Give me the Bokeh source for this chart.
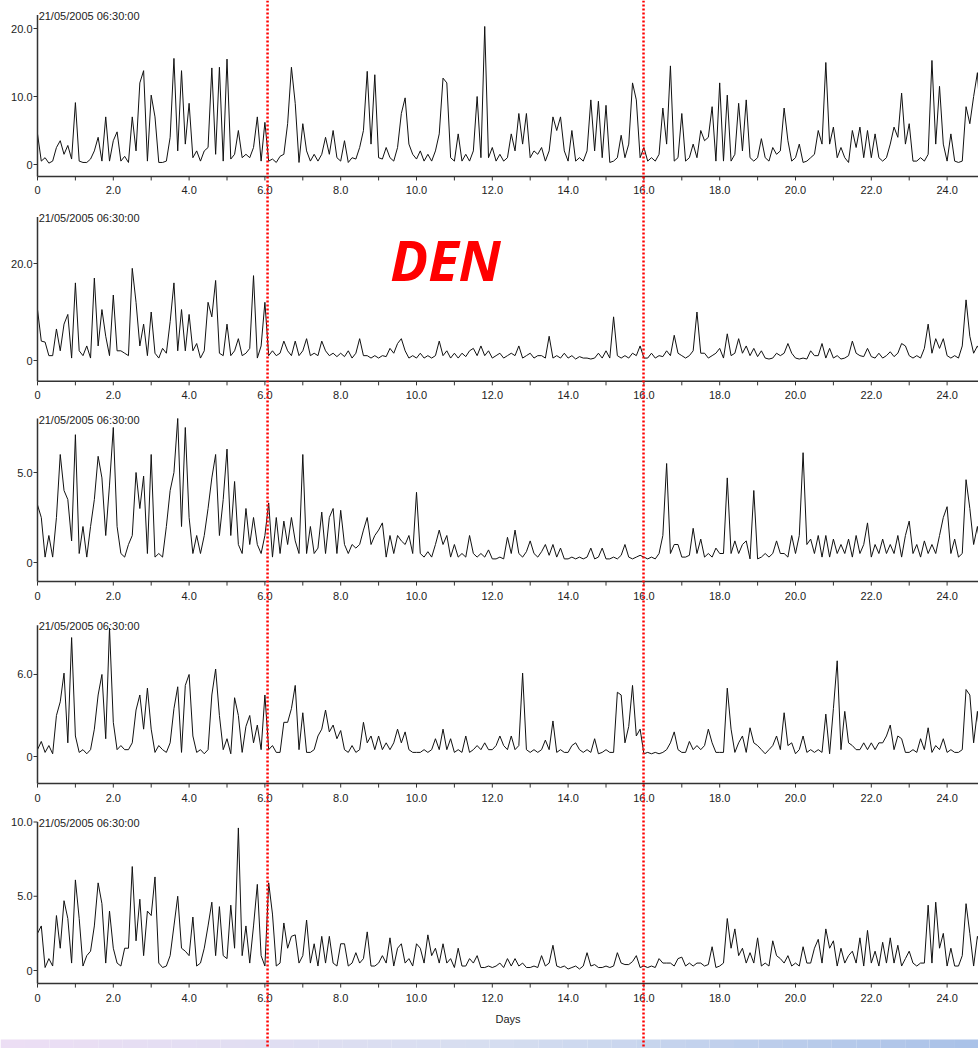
import numpy as np
from bokeh.plotting import figure
from bokeh.models import Range1d, Span, Label
from bokeh.core.properties import value
from bokeh.embed import file_html
from bokeh.resources import INLINE

# ---------------------------------------------------------------- data
stamp = "21/05/2005 06:30:00"
x_tick_days = list(range(0, 25))
x_label_days = list(range(0, 25, 2))
x_labels = ["0"] + [f"{d:.1f}" for d in x_label_days[1:]]
marker_days = [6.07, 15.99]
STEP = 0.1  # sampling interval in days

series_1 = [
    4.5, 0.5, 1.0, 0.2, 0.5, 2.5, 3.5, 1.5, 2.8, 0.8,
    9.1, 0.5, 0.3, 0.3, 0.8, 2.0, 4.0, 0.5, 7.0, 0.5,
    3.5, 4.8, 0.5, 1.2, 0.3, 7.0, 2.0, 12.0, 13.8, 0.5,
    10.2, 7.0, 0.3, 0.3, 0.5, 4.0, 15.6, 2.0, 13.8, 3.0,
    9.0, 1.0, 2.0, 0.5, 2.0, 2.5, 14.2, 1.5, 14.3, 0.5,
    15.5, 0.8, 1.5, 5.0, 1.0, 1.5, 1.0, 2.5, 7.0, 0.5,
    6.2, 0.5, 0.8, 0.3, 1.2, 1.5, 6.0, 14.3, 9.0, 0.3,
    6.0, 2.0, 0.5, 1.5, 0.5, 1.5, 4.0, 1.5, 5.0, 1.0,
    0.5, 3.5, 0.3, 1.0, 0.8, 2.5, 5.0, 13.7, 3.0, 13.2,
    1.0, 0.8, 2.5, 1.0, 0.5, 2.5, 7.5, 9.8, 3.0, 1.5,
    0.8, 2.0, 0.5, 1.5, 0.5, 2.0, 4.5, 12.7, 12.0, 1.0,
    0.5, 4.5, 0.5, 1.5, 0.5, 2.0, 10.0, 1.0, 20.3, 1.0,
    2.5, 0.5, 1.5, 0.5, 1.0, 4.5, 2.0, 7.5, 3.0, 7.5,
    1.0, 2.0, 1.5, 2.5, 0.5, 2.0, 7.0, 5.0, 7.0, 2.0,
    0.5, 5.0, 0.5, 1.0, 0.5, 2.0, 9.5, 2.0, 9.3, 1.0,
    8.7, 0.3, 0.5, 1.0, 4.3, 1.0, 3.0, 12.0, 9.5, 1.0,
    2.5, 0.5, 1.0, 0.5, 1.5, 8.3, 3.0, 14.5, 0.5, 1.0,
    7.5, 0.5, 1.0, 3.0, 1.0, 5.0, 3.5, 4.0, 8.5, 0.5,
    12.0, 0.5, 10.2, 0.5, 1.5, 9.0, 2.0, 9.5, 1.0, 0.5,
    1.0, 3.8, 1.0, 0.5, 2.5, 1.5, 2.0, 8.3, 3.5, 0.5,
    1.0, 3.0, 0.3, 0.5, 1.0, 1.5, 5.0, 3.0, 15.0, 3.0,
    5.5, 1.0, 2.5, 1.0, 0.3, 5.0, 2.5, 5.5, 1.0, 5.0,
    1.0, 4.5, 1.0, 0.5, 1.0, 3.0, 5.5, 4.0, 10.5, 3.0,
    6.0, 0.5, 0.5, 1.0, 0.5, 1.5, 15.3, 3.0, 11.5, 3.0,
    0.5, 4.5, 0.5, 0.3, 0.5, 8.5, 6.0, 10.0, 13.5, 5.0,
    12.0,
]

series_2 = [
    10.5, 4.0, 3.8, 1.0, 1.0, 6.5, 2.0, 7.5, 9.5, 0.5,
    16.0, 2.0, 1.0, 3.0, 0.5, 17.0, 3.0, 10.5, 5.0, 1.0,
    13.5, 2.0, 2.0, 1.5, 1.0, 19.0, 12.0, 3.0, 7.5, 1.0,
    10.0, 1.5, 0.5, 2.5, 1.5, 8.0, 16.0, 2.0, 10.5, 2.0,
    9.5, 2.0, 3.5, 0.5, 2.0, 12.0, 9.0, 16.5, 1.5, 1.0,
    7.5, 1.0, 2.0, 4.5, 1.0, 1.5, 2.5, 17.5, 0.5, 3.0,
    12.0, 1.0, 2.0, 1.0, 1.5, 4.0, 2.0, 1.0, 4.0, 1.0,
    2.0, 4.5, 1.0, 1.5, 1.0, 4.0, 2.0, 1.0, 1.5, 0.8,
    1.5, 0.8, 2.0, 0.5, 1.5, 4.5, 1.0, 1.0, 0.5, 1.0,
    0.5, 1.0, 0.8, 2.5, 1.5, 3.5, 4.5, 2.0, 0.5, 1.0,
    0.5, 1.5, 0.5, 1.0, 0.5, 1.0, 4.0, 1.0, 2.0, 0.5,
    1.5, 0.5, 1.5, 0.8, 2.0, 2.5, 1.0, 3.0, 1.0, 2.0,
    0.5, 1.0, 1.5, 0.5, 1.0, 1.5, 1.0, 3.0, 0.5, 1.0,
    1.5, 0.5, 1.0, 1.0, 0.5, 5.0, 0.5, 1.0, 0.5, 1.5,
    0.5, 1.0, 0.3, 0.8, 0.5, 0.5, 0.3, 0.5, 1.5, 0.5,
    2.0, 0.5, 9.0, 1.0, 0.5, 1.0, 0.5, 1.5, 1.0, 3.0,
    0.5, 0.5, 1.5, 0.5, 1.0, 0.8, 2.0, 1.0, 5.2, 1.5,
    1.0, 0.5, 1.0, 2.0, 10.0, 1.5, 1.5, 0.5, 1.0, 1.5,
    2.5, 0.5, 5.5, 1.0, 1.5, 4.5, 1.5, 3.0, 1.0, 2.5,
    0.8, 2.0, 0.5, 0.3, 0.5, 1.5, 1.0, 1.5, 3.5, 1.5,
    0.5, 0.3, 0.5, 0.3, 2.0, 1.0, 1.0, 3.5, 0.5, 2.5,
    0.5, 1.0, 0.3, 0.5, 1.0, 4.0, 1.5, 1.0, 0.8, 2.5,
    0.8, 0.5, 1.5, 0.5, 1.0, 1.8, 0.8, 1.5, 3.5, 3.0,
    1.0, 0.5, 1.0, 0.5, 2.5, 7.5, 1.5, 4.5, 2.5, 4.5,
    1.0, 0.5, 1.0, 0.5, 3.0, 12.5, 5.0, 1.5, 3.0, 1.5,
    2.0,
]

series_3 = [
    3.2, 2.5, 0.3, 1.5, 0.3, 2.5, 6.0, 4.0, 3.5, 1.2,
    7.1, 0.5, 2.0, 0.3, 2.0, 3.5, 5.9, 4.7, 1.5, 4.3,
    7.5, 2.0, 0.5, 0.3, 1.0, 1.5, 5.0, 3.0, 4.8, 0.5,
    6.0, 0.3, 0.5, 0.3, 2.0, 4.0, 5.0, 8.0, 2.0, 7.5,
    2.5, 0.5, 1.5, 0.5, 1.5, 3.0, 4.7, 6.0, 1.5, 3.5,
    6.3, 1.5, 4.5, 1.0, 0.5, 3.0, 1.0, 2.5, 1.0, 0.5,
    1.5, 3.3, 0.3, 2.5, 0.5, 2.3, 1.0, 2.5, 1.2, 0.5,
    6.0, 0.5, 2.0, 0.5, 0.8, 2.8, 0.5, 2.5, 3.0, 0.5,
    2.9, 1.0, 0.5, 1.0, 0.8, 1.0, 1.8, 2.5, 1.0, 1.5,
    1.8, 2.2, 0.3, 1.5, 0.5, 1.5, 1.2, 1.0, 1.5, 0.5,
    3.9, 0.5, 0.3, 0.6, 0.3, 1.0, 1.8, 1.0, 1.5, 0.3,
    1.0, 0.3, 0.5, 0.3, 1.5, 0.5, 0.3, 0.5, 0.3, 0.7,
    0.2, 0.2, 0.3, 0.2, 1.4, 0.5, 1.8, 0.5, 0.3, 0.6,
    1.2, 0.5, 0.3, 0.6, 1.0, 0.4, 1.0, 0.3, 0.8, 0.2,
    0.2, 0.3, 0.2, 0.3, 0.2, 0.3, 0.8, 0.2, 0.3, 0.8,
    0.2, 0.2, 0.3, 0.2, 0.4, 1.0, 0.3, 0.2, 0.3, 0.4,
    0.3, 0.2, 0.3, 0.2, 0.5, 1.5, 5.5, 0.5, 1.0, 1.0,
    0.3, 0.3, 0.4, 1.9, 0.5, 1.3, 0.3, 0.5, 0.3, 0.8,
    0.5, 0.5, 4.7, 0.5, 1.2, 0.5, 1.0, 1.2, 0.2, 4.0,
    0.2, 0.3, 0.5, 0.3, 0.5, 1.2, 0.5, 0.5, 0.3, 1.5,
    0.5, 1.5, 6.1, 1.0, 1.3, 0.5, 1.5, 0.3, 1.5, 0.3,
    1.3, 0.5, 1.0, 0.5, 1.3, 0.3, 1.5, 0.5, 1.0, 2.2,
    0.3, 1.0, 0.5, 1.3, 0.5, 1.0, 0.5, 1.5, 0.3, 1.5,
    2.3, 0.5, 1.0, 0.3, 1.2, 0.5, 1.0, 0.5, 1.5, 2.5,
    3.1, 0.5, 1.3, 0.3, 0.5, 4.6, 3.0, 1.0, 2.0, 0.5,
    1.0,
]

series_4 = [
    0.5, 1.1, 0.3, 0.8, 0.2, 3.0, 4.0, 6.1, 1.0, 8.7,
    1.5, 0.3, 0.5, 0.2, 0.5, 2.0, 4.5, 6.0, 1.3, 9.4,
    2.5, 0.5, 0.8, 0.5, 0.5, 1.0, 3.4, 4.5, 2.0, 5.0,
    2.0, 0.3, 0.8, 0.5, 0.3, 1.0, 3.5, 5.1, 0.3, 5.2,
    6.0, 1.5, 0.3, 0.5, 0.2, 0.5, 4.5, 6.4, 3.0, 0.5,
    1.3, 0.2, 4.3, 3.0, 0.3, 2.2, 3.0, 1.0, 2.3, 0.5,
    4.5, 0.5, 0.8, 0.3, 0.3, 2.5, 2.5, 3.5, 5.2, 0.5,
    3.2, 0.3, 0.3, 0.5, 1.5, 2.0, 3.4, 1.8, 2.3, 1.3,
    1.9, 0.5, 0.3, 0.8, 0.3, 0.5, 2.5, 1.0, 1.5, 0.5,
    1.5, 0.5, 1.0, 0.5, 1.0, 2.0, 1.0, 1.8, 0.5, 0.3,
    0.3, 0.3, 0.5, 0.3, 0.5, 1.3, 0.5, 2.0, 0.5, 1.3,
    0.3, 0.5, 0.3, 1.5, 0.3, 0.5, 0.8, 0.5, 1.0, 0.5,
    0.5, 0.8, 1.5, 0.8, 0.5, 1.5, 0.5, 0.8, 6.1, 0.5,
    0.3, 0.5, 0.3, 0.5, 1.2, 0.5, 2.6, 0.3, 0.5, 0.3,
    0.3, 0.8, 1.0, 0.5, 0.3, 0.5, 0.3, 1.3, 0.2, 0.3,
    0.5, 0.3, 0.3, 4.7, 4.5, 1.0, 2.2, 5.2, 1.5, 2.0,
    0.2, 0.3, 0.2, 0.3, 0.2, 0.3, 0.5, 1.0, 1.8, 0.5,
    0.3, 0.3, 1.1, 0.5, 0.8, 0.5, 0.8, 2.0, 1.0, 0.3,
    0.3, 0.3, 5.0, 2.0, 0.3, 1.0, 1.5, 0.3, 2.1, 1.0,
    0.8, 0.5, 0.2, 0.5, 0.8, 1.5, 0.5, 3.2, 0.8, 1.0,
    0.2, 0.5, 1.5, 0.3, 0.5, 0.3, 0.5, 0.3, 3.1, 0.2,
    3.5, 7.0, 0.5, 3.3, 1.0, 0.8, 0.5, 0.5, 1.0, 0.5,
    1.0, 0.5, 1.0, 1.0, 1.5, 2.3, 0.5, 1.5, 1.3, 0.3,
    0.3, 0.5, 0.3, 1.3, 0.5, 2.1, 0.3, 0.8, 0.5, 1.3,
    0.3, 0.5, 0.3, 0.3, 0.5, 4.9, 4.5, 1.0, 3.3, 0.5,
    1.5,
]

series_5 = [
    2.5, 3.0, 0.2, 0.8, 0.3, 3.7, 1.5, 4.7, 3.5, 0.5,
    6.1, 3.5, 0.3, 1.0, 1.3, 3.0, 5.9, 4.5, 0.5, 4.0,
    1.5, 0.5, 0.3, 1.5, 1.5, 7.0, 2.0, 4.8, 1.0, 4.0,
    3.7, 6.3, 0.5, 0.2, 0.3, 1.0, 3.0, 5.0, 1.5, 1.3,
    1.0, 3.6, 0.3, 0.5, 1.5, 3.0, 4.6, 1.0, 4.3, 1.0,
    0.8, 4.4, 1.5, 9.6, 1.0, 3.0, 0.5, 3.0, 5.8, 1.0,
    0.3, 5.9, 3.8, 0.3, 0.5, 3.2, 1.5, 2.3, 2.4, 0.5,
    1.0, 3.4, 0.5, 1.8, 0.3, 2.3, 0.5, 2.3, 0.5, 0.3,
    1.8, 1.8, 0.3, 0.5, 1.2, 0.5, 0.8, 2.6, 0.3, 0.3,
    0.5, 1.0, 0.5, 2.2, 0.3, 1.5, 1.8, 0.5, 0.8, 0.3,
    1.8, 1.5, 0.5, 2.4, 1.0, 1.5, 0.5, 1.8, 0.5, 0.8,
    0.2, 1.5, 0.3, 0.3, 0.8, 0.5, 1.0, 0.2, 0.2, 0.3,
    0.2, 0.3, 0.5, 0.2, 0.8, 0.3, 0.8, 0.3, 0.5, 0.2,
    0.2, 0.3, 0.2, 1.0, 0.3, 0.5, 1.7, 0.3, 0.2, 0.3,
    0.1, 0.2, 0.3, 0.1, 0.3, 1.2, 0.3, 0.4, 0.2, 0.2,
    0.3, 0.2, 0.3, 1.2, 0.5, 0.4, 0.4, 0.6, 1.0, 0.2,
    0.3, 0.2, 0.3, 0.2, 0.8, 0.5, 0.5, 0.5, 0.3, 0.8,
    0.9, 0.3, 0.5, 0.3, 0.5, 0.5, 0.3, 0.4, 1.6, 0.2,
    0.3, 0.5, 3.5, 1.5, 2.8, 1.0, 1.5, 0.5, 1.2, 0.5,
    2.2, 0.3, 0.5, 0.3, 2.0, 1.0, 0.8, 0.5, 1.0, 0.3,
    0.5, 0.3, 1.6, 0.5, 0.5, 1.5, 2.1, 0.5, 2.8, 1.5,
    2.0, 0.3, 1.5, 0.5, 1.0, 1.3, 0.5, 2.2, 0.3, 2.7,
    0.5, 1.3, 0.3, 1.9, 0.5, 2.2, 0.5, 1.7, 0.3, 0.8,
    1.3, 0.5, 0.3, 0.5, 0.5, 4.4, 0.5, 4.6, 1.5, 2.5,
    0.3, 1.5, 0.3, 0.3, 1.0, 4.5, 2.5, 0.3, 2.3, 1.5,
    2.0,
]

# y ticks and their labels for each strip
y_ticks = [[0, 10, 20], [0, 20], [0, 5], [0, 6], [0, 5, 10]]
y_tick_labels = [["0", "10.0", "20.0"], ["0", "20.0"], ["0", "5.0"],
                 ["0", "6.0"], ["0", "5.0", "10.0"]]
all_series = [series_1, series_2, series_3, series_4, series_5]

# ---------------------------------------------------------------- layout
W, H = 978, 1048
X0_PX = 37.0          # canvas column of day 0
PX_PER_DAY = 37.9
# per strip: canvas row of value 0, pixels per unit, axis bottom / top (in values)
strips = [
    dict(zero=164, unit=6.8,  ymin=-1.76, ymax=22.0),
    dict(zero=360, unit=4.85, ymin=-4.3,  ymax=29.6),
    dict(zero=562, unit=18.0, ymin=-1.06, ymax=8.0),
    dict(zero=756, unit=13.67, ymin=-1.98, ymax=9.6),
    dict(zero=970, unit=14.85, ymin=-0.88, ymax=10.0),
]

FONT = value("Liberation Sans")
INK = "#222222"
AXIS = "#333333"

x_lo = -X0_PX / PX_PER_DAY
x_hi = (W - X0_PX) / PX_PER_DAY
dx = 1.0 / PX_PER_DAY

p = figure(width=W, height=H, x_range=Range1d(x_lo, x_hi), y_range=Range1d(H, 0),
           x_axis_type=None, y_axis_type=None, toolbar_location=None,
           output_backend="svg", min_border=0, outline_line_color=None,
           background_fill_color="white", border_fill_color="white")

p.extra_y_ranges = {
    f"s{k}": Range1d((s["zero"] - H) / s["unit"], s["zero"] / s["unit"])
    for k, s in enumerate(strips)
}

for k, (s, vals) in enumerate(zip(strips, all_series)):
    rn = f"s{k}"
    dy = 1.0 / s["unit"]
    days = np.round(np.arange(len(vals)) * STEP, 1)

    # trace
    p.line(days, vals, y_range_name=rn, line_color="#111111", line_width=1)

    # axis lines
    p.segment(x0=[0, 0], y0=[s["ymin"], s["ymin"]], x1=[0, x_hi + 1], y1=[s["ymax"], s["ymin"]],
              y_range_name=rn, line_color=AXIS, line_width=1.5)
    # x ticks and labels
    p.segment(x0=x_tick_days, y0=s["ymin"], x1=x_tick_days, y1=s["ymin"] - 4 * dy,
              y_range_name=rn, line_color=AXIS, line_width=1)
    p.text(x=x_label_days, y=s["ymin"] - 14 * dy, text=x_labels, y_range_name=rn,
           text_align="center", text_baseline="middle", text_font=FONT,
           text_font_size="11px", text_color=INK)
    # y ticks and labels
    p.segment(x0=0, y0=y_ticks[k], x1=-4 * dx, y1=y_ticks[k], y_range_name=rn,
              line_color=AXIS, line_width=1)
    p.text(x=-5 * dx, y=y_ticks[k], text=y_tick_labels[k], y_range_name=rn,
           text_align="right", text_baseline="middle", text_font=FONT,
           text_font_size="11px", text_color=INK)
    # time stamp at the top of each strip
    p.text(x=[0.03], y=[s["ymax"] - 1 * dy], text=[stamp], y_range_name=rn,
           text_align="left", text_baseline="middle", text_font=FONT,
           text_font_size="11px", text_color=INK)

# x axis title under the last strip
last = strips[-1]
p.text(x=[(x_hi + 0) / 2], y=[last["ymin"] - 35 / last["unit"]], text=["Days"],
       y_range_name="s4", text_align="center", text_baseline="middle",
       text_font=FONT, text_font_size="11px", text_color=INK)

# caption in the second strip
p.add_layout(Label(x=9.31, y=21.0, y_range_name="s1", text="DEN",
                   text_font="Open Sans", text_font_style="bold italic",
                   text_font_size="56px", text_color="#ff0000",
                   text_align="left", text_baseline="middle"))

# soft colour band along the bottom edge
stops = np.array([[236, 222, 244], [214, 222, 240], [170, 194, 232]], dtype=float)
n_band = 40
edges = np.linspace(x_lo, x_hi, n_band + 1)
t = np.linspace(0, 1, n_band)
band_cols = []
for ti in t:
    seg = min(int(ti * 2), 1)
    f = ti * 2 - seg
    c = stops[seg] * (1 - f) + stops[seg + 1] * f
    band_cols.append("#%02x%02x%02x" % tuple(int(round(v)) for v in c))
p.quad(left=edges[:-1], right=edges[1:], top=1039, bottom=1048,
       fill_color=band_cols, line_color=None)

# dotted markers spanning all strips
for d in marker_days:
    p.add_layout(Span(location=d, dimension="height", line_color="#ff0000",
                      line_dash="2 2", line_width=2.5))

open("out.html", "w").write(file_html(p, INLINE))
